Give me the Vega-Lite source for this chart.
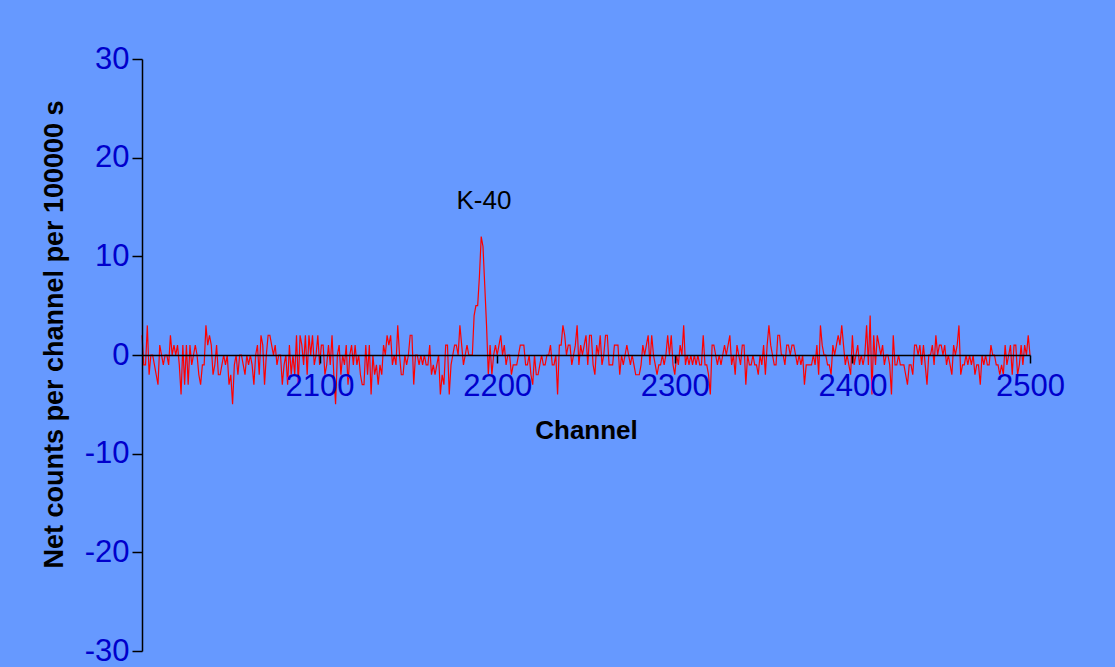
{
  "$schema": "https://vega.github.io/schema/vega-lite/v6.json",
  "width": 888,
  "height": 592,
  "autosize": {"type": "none"},
  "padding": {"left": 142, "top": 59, "right": 85, "bottom": 16},
  "background": "#6699FF",
  "config": {"view": {"stroke": null}, "font": "Liberation Sans"},
  "datasets": {
    "spectrum": [
{"channel":2000,"net":2},{"channel":2001,"net":-1},{"channel":2002,"net":-1},{"channel":2003,"net":3},{"channel":2004,"net":-2},{"channel":2005,"net":0},{"channel":2006,"net":0},{"channel":2007,"net":-1},{"channel":2008,"net":-2},{"channel":2009,"net":-3},
{"channel":2010,"net":1},{"channel":2011,"net":0},{"channel":2012,"net":-1},{"channel":2013,"net":0},{"channel":2014,"net":0},{"channel":2015,"net":-1},{"channel":2016,"net":2},{"channel":2017,"net":0},{"channel":2018,"net":1},{"channel":2019,"net":0},
{"channel":2020,"net":1},{"channel":2021,"net":-1},{"channel":2022,"net":-4},{"channel":2023,"net":1},{"channel":2024,"net":-3},{"channel":2025,"net":1},{"channel":2026,"net":-3},{"channel":2027,"net":1},{"channel":2028,"net":-1},{"channel":2029,"net":0},
{"channel":2030,"net":1},{"channel":2031,"net":0},{"channel":2032,"net":-2},{"channel":2033,"net":-3},{"channel":2034,"net":-1},{"channel":2035,"net":-1},{"channel":2036,"net":3},{"channel":2037,"net":1},{"channel":2038,"net":2},{"channel":2039,"net":1},
{"channel":2040,"net":-2},{"channel":2041,"net":-1},{"channel":2042,"net":1},{"channel":2043,"net":-2},{"channel":2044,"net":-2},{"channel":2045,"net":-1},{"channel":2046,"net":0},{"channel":2047,"net":-1},{"channel":2048,"net":0},{"channel":2049,"net":-3},
{"channel":2050,"net":-2},{"channel":2051,"net":-5},{"channel":2052,"net":-1},{"channel":2053,"net":0},{"channel":2054,"net":-2},{"channel":2055,"net":0},{"channel":2056,"net":0},{"channel":2057,"net":-1},{"channel":2058,"net":-2},{"channel":2059,"net":0},
{"channel":2060,"net":-1},{"channel":2061,"net":0},{"channel":2062,"net":-1},{"channel":2063,"net":-3},{"channel":2064,"net":0},{"channel":2065,"net":1},{"channel":2066,"net":-2},{"channel":2067,"net":2},{"channel":2068,"net":1},{"channel":2069,"net":-3},
{"channel":2070,"net":0},{"channel":2071,"net":2},{"channel":2072,"net":2},{"channel":2073,"net":1},{"channel":2074,"net":0},{"channel":2075,"net":1},{"channel":2076,"net":-1},{"channel":2077,"net":0},{"channel":2078,"net":0},{"channel":2079,"net":-3},
{"channel":2080,"net":-1},{"channel":2081,"net":0},{"channel":2082,"net":-3},{"channel":2083,"net":1},{"channel":2084,"net":-2},{"channel":2085,"net":0},{"channel":2086,"net":-2},{"channel":2087,"net":2},{"channel":2088,"net":-3},{"channel":2089,"net":2},
{"channel":2090,"net":1},{"channel":2091,"net":-1},{"channel":2092,"net":2},{"channel":2093,"net":-2},{"channel":2094,"net":2},{"channel":2095,"net":0},{"channel":2096,"net":2},{"channel":2097,"net":-1},{"channel":2098,"net":0},{"channel":2099,"net":2},
{"channel":2100,"net":-1},{"channel":2101,"net":1},{"channel":2102,"net":1},{"channel":2103,"net":-2},{"channel":2104,"net":-1},{"channel":2105,"net":1},{"channel":2106,"net":-1},{"channel":2107,"net":2},{"channel":2108,"net":-2},{"channel":2109,"net":-5},
{"channel":2110,"net":0},{"channel":2111,"net":1},{"channel":2112,"net":-2},{"channel":2113,"net":0},{"channel":2114,"net":-1},{"channel":2115,"net":1},{"channel":2116,"net":-3},{"channel":2117,"net":0},{"channel":2118,"net":1},{"channel":2119,"net":-1},
{"channel":2120,"net":1},{"channel":2121,"net":-1},{"channel":2122,"net":0},{"channel":2123,"net":-2},{"channel":2124,"net":-3},{"channel":2125,"net":-3},{"channel":2126,"net":1},{"channel":2127,"net":-2},{"channel":2128,"net":1},{"channel":2129,"net":-4},
{"channel":2130,"net":0},{"channel":2131,"net":-2},{"channel":2132,"net":-1},{"channel":2133,"net":-3},{"channel":2134,"net":-1},{"channel":2135,"net":-2},{"channel":2136,"net":1},{"channel":2137,"net":0},{"channel":2138,"net":2},{"channel":2139,"net":1},
{"channel":2140,"net":2},{"channel":2141,"net":-1},{"channel":2142,"net":0},{"channel":2143,"net":-1},{"channel":2144,"net":3},{"channel":2145,"net":0},{"channel":2146,"net":-2},{"channel":2147,"net":-2},{"channel":2148,"net":0},{"channel":2149,"net":-1},
{"channel":2150,"net":0},{"channel":2151,"net":2},{"channel":2152,"net":2},{"channel":2153,"net":-3},{"channel":2154,"net":0},{"channel":2155,"net":0},{"channel":2156,"net":-1},{"channel":2157,"net":0},{"channel":2158,"net":-1},{"channel":2159,"net":0},
{"channel":2160,"net":-1},{"channel":2161,"net":-1},{"channel":2162,"net":1},{"channel":2163,"net":-2},{"channel":2164,"net":-1},{"channel":2165,"net":-2},{"channel":2166,"net":-1},{"channel":2167,"net":0},{"channel":2168,"net":-4},{"channel":2169,"net":-2},
{"channel":2170,"net":-3},{"channel":2171,"net":1},{"channel":2172,"net":1},{"channel":2173,"net":-4},{"channel":2174,"net":-1},{"channel":2175,"net":0},{"channel":2176,"net":1},{"channel":2177,"net":1},{"channel":2178,"net":0},{"channel":2179,"net":3},
{"channel":2180,"net":1},{"channel":2181,"net":-1},{"channel":2182,"net":0},{"channel":2183,"net":1},{"channel":2184,"net":0},{"channel":2185,"net":0},{"channel":2186,"net":0},{"channel":2187,"net":4},{"channel":2188,"net":5},{"channel":2189,"net":5},
{"channel":2190,"net":8},{"channel":2191,"net":12},{"channel":2192,"net":11},{"channel":2193,"net":7},{"channel":2194,"net":3},{"channel":2195,"net":-2},{"channel":2196,"net":1},{"channel":2197,"net":-2},{"channel":2198,"net":0},{"channel":2199,"net":1},
{"channel":2200,"net":0},{"channel":2201,"net":1},{"channel":2202,"net":2},{"channel":2203,"net":0},{"channel":2204,"net":1},{"channel":2205,"net":-1},{"channel":2206,"net":0},{"channel":2207,"net":0},{"channel":2208,"net":-2},{"channel":2209,"net":-1},
{"channel":2210,"net":-1},{"channel":2211,"net":-1},{"channel":2212,"net":0},{"channel":2213,"net":1},{"channel":2214,"net":1},{"channel":2215,"net":1},{"channel":2216,"net":-1},{"channel":2217,"net":-1},{"channel":2218,"net":0},{"channel":2219,"net":-2},
{"channel":2220,"net":-3},{"channel":2221,"net":0},{"channel":2222,"net":-2},{"channel":2223,"net":-2},{"channel":2224,"net":-1},{"channel":2225,"net":0},{"channel":2226,"net":-1},{"channel":2227,"net":-1},{"channel":2228,"net":0},{"channel":2229,"net":0},
{"channel":2230,"net":1},{"channel":2231,"net":-1},{"channel":2232,"net":-1},{"channel":2233,"net":0},{"channel":2234,"net":-4},{"channel":2235,"net":1},{"channel":2236,"net":1},{"channel":2237,"net":3},{"channel":2238,"net":2},{"channel":2239,"net":0},
{"channel":2240,"net":1},{"channel":2241,"net":1},{"channel":2242,"net":-1},{"channel":2243,"net":0},{"channel":2244,"net":1},{"channel":2245,"net":3},{"channel":2246,"net":-1},{"channel":2247,"net":1},{"channel":2248,"net":0},{"channel":2249,"net":1},
{"channel":2250,"net":2},{"channel":2251,"net":-1},{"channel":2252,"net":2},{"channel":2253,"net":2},{"channel":2254,"net":-1},{"channel":2255,"net":-2},{"channel":2256,"net":1},{"channel":2257,"net":0},{"channel":2258,"net":2},{"channel":2259,"net":-1},
{"channel":2260,"net":0},{"channel":2261,"net":2},{"channel":2262,"net":2},{"channel":2263,"net":-1},{"channel":2264,"net":-1},{"channel":2265,"net":-1},{"channel":2266,"net":1},{"channel":2267,"net":1},{"channel":2268,"net":1},{"channel":2269,"net":-2},
{"channel":2270,"net":0},{"channel":2271,"net":-1},{"channel":2272,"net":0},{"channel":2273,"net":1},{"channel":2274,"net":0},{"channel":2275,"net":-1},{"channel":2276,"net":0},{"channel":2277,"net":-1},{"channel":2278,"net":-2},{"channel":2279,"net":-2},
{"channel":2280,"net":-2},{"channel":2281,"net":-1},{"channel":2282,"net":1},{"channel":2283,"net":0},{"channel":2284,"net":1},{"channel":2285,"net":2},{"channel":2286,"net":-1},{"channel":2287,"net":2},{"channel":2288,"net":0},{"channel":2289,"net":-1},
{"channel":2290,"net":-2},{"channel":2291,"net":-1},{"channel":2292,"net":-1},{"channel":2293,"net":0},{"channel":2294,"net":-1},{"channel":2295,"net":0},{"channel":2296,"net":2},{"channel":2297,"net":0},{"channel":2298,"net":2},{"channel":2299,"net":-1},
{"channel":2300,"net":-2},{"channel":2301,"net":0},{"channel":2302,"net":-1},{"channel":2303,"net":1},{"channel":2304,"net":0},{"channel":2305,"net":3},{"channel":2306,"net":-1},{"channel":2307,"net":0},{"channel":2308,"net":-1},{"channel":2309,"net":0},
{"channel":2310,"net":-1},{"channel":2311,"net":0},{"channel":2312,"net":-1},{"channel":2313,"net":0},{"channel":2314,"net":-1},{"channel":2315,"net":-1},{"channel":2316,"net":2},{"channel":2317,"net":-1},{"channel":2318,"net":-1},{"channel":2319,"net":-2},
{"channel":2320,"net":-4},{"channel":2321,"net":1},{"channel":2322,"net":1},{"channel":2323,"net":0},{"channel":2324,"net":-1},{"channel":2325,"net":0},{"channel":2326,"net":-1},{"channel":2327,"net":0},{"channel":2328,"net":1},{"channel":2329,"net":0},
{"channel":2330,"net":1},{"channel":2331,"net":2},{"channel":2332,"net":-1},{"channel":2333,"net":0},{"channel":2334,"net":-2},{"channel":2335,"net":1},{"channel":2336,"net":0},{"channel":2337,"net":-1},{"channel":2338,"net":1},{"channel":2339,"net":1},
{"channel":2340,"net":-3},{"channel":2341,"net":0},{"channel":2342,"net":-1},{"channel":2343,"net":-1},{"channel":2344,"net":0},{"channel":2345,"net":-1},{"channel":2346,"net":-1},{"channel":2347,"net":-2},{"channel":2348,"net":0},{"channel":2349,"net":-1},
{"channel":2350,"net":1},{"channel":2351,"net":-2},{"channel":2352,"net":1},{"channel":2353,"net":3},{"channel":2354,"net":1},{"channel":2355,"net":0},{"channel":2356,"net":-1},{"channel":2357,"net":-1},{"channel":2358,"net":2},{"channel":2359,"net":2},
{"channel":2360,"net":0},{"channel":2361,"net":0},{"channel":2362,"net":-1},{"channel":2363,"net":1},{"channel":2364,"net":1},{"channel":2365,"net":0},{"channel":2366,"net":1},{"channel":2367,"net":1},{"channel":2368,"net":0},{"channel":2369,"net":-1},
{"channel":2370,"net":0},{"channel":2371,"net":-1},{"channel":2372,"net":0},{"channel":2373,"net":-3},{"channel":2374,"net":-1},{"channel":2375,"net":-1},{"channel":2376,"net":-1},{"channel":2377,"net":-1},{"channel":2378,"net":0},{"channel":2379,"net":-1},
{"channel":2380,"net":1},{"channel":2381,"net":-2},{"channel":2382,"net":3},{"channel":2383,"net":1},{"channel":2384,"net":0},{"channel":2385,"net":0},{"channel":2386,"net":-1},{"channel":2387,"net":-1},{"channel":2388,"net":-2},{"channel":2389,"net":1},
{"channel":2390,"net":0},{"channel":2391,"net":1},{"channel":2392,"net":2},{"channel":2393,"net":1},{"channel":2394,"net":3},{"channel":2395,"net":1},{"channel":2396,"net":-1},{"channel":2397,"net":0},{"channel":2398,"net":-1},{"channel":2399,"net":-2},
{"channel":2400,"net":2},{"channel":2401,"net":-1},{"channel":2402,"net":0},{"channel":2403,"net":1},{"channel":2404,"net":-1},{"channel":2405,"net":0},{"channel":2406,"net":-1},{"channel":2407,"net":0},{"channel":2408,"net":3},{"channel":2409,"net":-1},
{"channel":2410,"net":4},{"channel":2411,"net":-4},{"channel":2412,"net":2},{"channel":2413,"net":-1},{"channel":2414,"net":2},{"channel":2415,"net":1},{"channel":2416,"net":0},{"channel":2417,"net":1},{"channel":2418,"net":-1},{"channel":2419,"net":0},
{"channel":2420,"net":0},{"channel":2421,"net":-1},{"channel":2422,"net":-4},{"channel":2423,"net":2},{"channel":2424,"net":-1},{"channel":2425,"net":-1},{"channel":2426,"net":0},{"channel":2427,"net":-1},{"channel":2428,"net":-1},{"channel":2429,"net":-1},
{"channel":2430,"net":-2},{"channel":2431,"net":-3},{"channel":2432,"net":-1},{"channel":2433,"net":-1},{"channel":2434,"net":-2},{"channel":2435,"net":1},{"channel":2436,"net":1},{"channel":2437,"net":0},{"channel":2438,"net":1},{"channel":2439,"net":-1},
{"channel":2440,"net":1},{"channel":2441,"net":-1},{"channel":2442,"net":-3},{"channel":2443,"net":0},{"channel":2444,"net":0},{"channel":2445,"net":1},{"channel":2446,"net":-1},{"channel":2447,"net":2},{"channel":2448,"net":0},{"channel":2449,"net":1},
{"channel":2450,"net":1},{"channel":2451,"net":0},{"channel":2452,"net":1},{"channel":2453,"net":-1},{"channel":2454,"net":0},{"channel":2455,"net":-1},{"channel":2456,"net":-2},{"channel":2457,"net":1},{"channel":2458,"net":0},{"channel":2459,"net":1},
{"channel":2460,"net":3},{"channel":2461,"net":-2},{"channel":2462,"net":-1},{"channel":2463,"net":-1},{"channel":2464,"net":0},{"channel":2465,"net":-1},{"channel":2466,"net":0},{"channel":2467,"net":-1},{"channel":2468,"net":0},{"channel":2469,"net":-2},
{"channel":2470,"net":-1},{"channel":2471,"net":-1},{"channel":2472,"net":-3},{"channel":2473,"net":0},{"channel":2474,"net":-1},{"channel":2475,"net":0},{"channel":2476,"net":-1},{"channel":2477,"net":-1},{"channel":2478,"net":1},{"channel":2479,"net":0},
{"channel":2480,"net":0},{"channel":2481,"net":-1},{"channel":2482,"net":-1},{"channel":2483,"net":-2},{"channel":2484,"net":-1},{"channel":2485,"net":-2},{"channel":2486,"net":1},{"channel":2487,"net":-1},{"channel":2488,"net":0},{"channel":2489,"net":1},
{"channel":2490,"net":-2},{"channel":2491,"net":1},{"channel":2492,"net":1},{"channel":2493,"net":-2},{"channel":2494,"net":-1},{"channel":2495,"net":1},{"channel":2496,"net":-1},{"channel":2497,"net":1},{"channel":2498,"net":0},{"channel":2499,"net":2},
{"channel":2500,"net":0}
    ],
    "labels": [
      {"channel": 2192.5, "net": 15.6, "label": "K-40"}
    ]
  },
  "layer": [
    {
      "data": {"name": "spectrum"},
      "mark": {"type": "line", "color": "#FF0000", "strokeWidth": 1.2},
      "encoding": {
        "x": {
          "field": "channel", "type": "quantitative",
          "scale": {"domain": [2000, 2500], "nice": false, "zero": false},
          "axis": {
            "title": "Channel", "values": [2100, 2200, 2300, 2400, 2500],
            "labelExpr": "datum.value + ''",
            "offset": -296, "zindex": 1, "grid": false,
            "domainColor": "#000000", "domainWidth": 1.5,
            "tickColor": "#000000", "tickSize": 8, "tickWidth": 1.5,
            "labelColor": "#0000CC", "labelFontSize": 31, "labelPadding": 8,
            "labelFont": "Liberation Sans", "labelFlush": false, "labelOverlap": false,
            "titleFont": "Liberation Sans", "titleFontSize": 26, "titleFontWeight": "bold",
            "titleColor": "#000000", "titlePadding": 16
          }
        },
        "y": {
          "field": "net", "type": "quantitative",
          "scale": {"domain": [-30, 30], "nice": false},
          "axis": {
            "title": "Net counts per channel per 100000 s",
            "values": [-30, -20, -10, 0, 10, 20, 30],
            "labelExpr": "datum.value + ''",
            "zindex": 1, "grid": false,
            "domainColor": "#000000", "domainWidth": 1.5,
            "tickColor": "#000000", "tickSize": 10, "tickWidth": 1.5,
            "labelColor": "#0000CC", "labelFontSize": 31, "labelPadding": 3,
            "labelFont": "Liberation Sans", "labelFlush": false, "labelOverlap": false,
            "titleFont": "Liberation Sans", "titleFontSize": 27, "titleFontWeight": "bold",
            "titleColor": "#000000", "titlePadding": 16, "titleY": 275, "titleAlign": "center"
          }
        }
      }
    },
    {
      "data": {"name": "labels"},
      "mark": {"type": "text", "fontSize": 26, "color": "#000000", "font": "Liberation Sans"},
      "encoding": {
        "x": {"field": "channel", "type": "quantitative"},
        "y": {"field": "net", "type": "quantitative"},
        "text": {"field": "label"}
      }
    }
  ]
}
